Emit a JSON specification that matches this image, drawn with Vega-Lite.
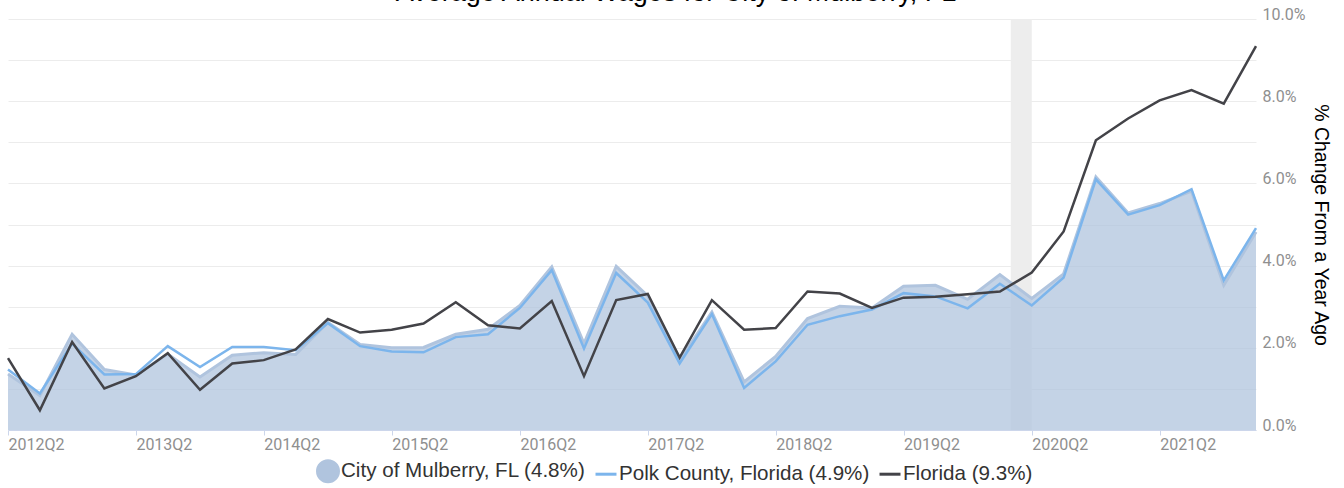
{
  "$schema": "https://vega.github.io/schema/vega-lite/v6.json",
  "width": 1248,
  "height": 411,
  "autosize": {"type": "none"},
  "padding": {"left": 8, "top": 19, "right": 88, "bottom": 58},
  "background": "white",
  "title": {
    "text": "Average Annual Wages for City of Mulberry, FL",
    "frame": "group",
    "anchor": "middle",
    "baseline": "alphabetic",
    "offset": -22,
    "dx": 44,
    "font": "Liberation Sans",
    "fontSize": 27,
    "fontWeight": "normal",
    "color": "#000000"
  },
  "datasets": {
    "recession": [{"start": "2020-02-01T00:00", "end": "2020-04-01T00:00"}],
    "wages": [
      {"date": "2012-04-01T00:00", "series": "Mulberry", "value": 1.36},
      {"date": "2012-07-01T00:00", "series": "Mulberry", "value": 0.84},
      {"date": "2012-10-01T00:00", "series": "Mulberry", "value": 2.33},
      {"date": "2013-01-01T00:00", "series": "Mulberry", "value": 1.47},
      {"date": "2013-04-01T00:00", "series": "Mulberry", "value": 1.34},
      {"date": "2013-07-01T00:00", "series": "Mulberry", "value": 1.85},
      {"date": "2013-10-01T00:00", "series": "Mulberry", "value": 1.29},
      {"date": "2014-01-01T00:00", "series": "Mulberry", "value": 1.82},
      {"date": "2014-04-01T00:00", "series": "Mulberry", "value": 1.88},
      {"date": "2014-07-01T00:00", "series": "Mulberry", "value": 1.84},
      {"date": "2014-10-01T00:00", "series": "Mulberry", "value": 2.62},
      {"date": "2015-01-01T00:00", "series": "Mulberry", "value": 2.08},
      {"date": "2015-04-01T00:00", "series": "Mulberry", "value": 2.0},
      {"date": "2015-07-01T00:00", "series": "Mulberry", "value": 2.01},
      {"date": "2015-10-01T00:00", "series": "Mulberry", "value": 2.33},
      {"date": "2016-01-01T00:00", "series": "Mulberry", "value": 2.45},
      {"date": "2016-04-01T00:00", "series": "Mulberry", "value": 3.03},
      {"date": "2016-07-01T00:00", "series": "Mulberry", "value": 3.97},
      {"date": "2016-10-01T00:00", "series": "Mulberry", "value": 2.1},
      {"date": "2017-01-01T00:00", "series": "Mulberry", "value": 3.98},
      {"date": "2017-04-01T00:00", "series": "Mulberry", "value": 3.26},
      {"date": "2017-07-01T00:00", "series": "Mulberry", "value": 1.7},
      {"date": "2017-10-01T00:00", "series": "Mulberry", "value": 2.87},
      {"date": "2018-01-01T00:00", "series": "Mulberry", "value": 1.17},
      {"date": "2018-04-01T00:00", "series": "Mulberry", "value": 1.79},
      {"date": "2018-07-01T00:00", "series": "Mulberry", "value": 2.71},
      {"date": "2018-10-01T00:00", "series": "Mulberry", "value": 3.01},
      {"date": "2019-01-01T00:00", "series": "Mulberry", "value": 2.97},
      {"date": "2019-04-01T00:00", "series": "Mulberry", "value": 3.5},
      {"date": "2019-07-01T00:00", "series": "Mulberry", "value": 3.52},
      {"date": "2019-10-01T00:00", "series": "Mulberry", "value": 3.18},
      {"date": "2020-01-01T00:00", "series": "Mulberry", "value": 3.78},
      {"date": "2020-04-01T00:00", "series": "Mulberry", "value": 3.2},
      {"date": "2020-07-01T00:00", "series": "Mulberry", "value": 3.8},
      {"date": "2020-10-01T00:00", "series": "Mulberry", "value": 6.16},
      {"date": "2021-01-01T00:00", "series": "Mulberry", "value": 5.28},
      {"date": "2021-04-01T00:00", "series": "Mulberry", "value": 5.51},
      {"date": "2021-07-01T00:00", "series": "Mulberry", "value": 5.81},
      {"date": "2021-10-01T00:00", "series": "Mulberry", "value": 3.52},
      {"date": "2022-01-01T00:00", "series": "Mulberry", "value": 4.82},
      {"date": "2012-04-01T00:00", "series": "Polk", "value": 1.47},
      {"date": "2012-07-01T00:00", "series": "Polk", "value": 0.89},
      {"date": "2012-10-01T00:00", "series": "Polk", "value": 2.1},
      {"date": "2013-01-01T00:00", "series": "Polk", "value": 1.35},
      {"date": "2013-04-01T00:00", "series": "Polk", "value": 1.36},
      {"date": "2013-07-01T00:00", "series": "Polk", "value": 2.04},
      {"date": "2013-10-01T00:00", "series": "Polk", "value": 1.53},
      {"date": "2014-01-01T00:00", "series": "Polk", "value": 2.02},
      {"date": "2014-04-01T00:00", "series": "Polk", "value": 2.02},
      {"date": "2014-07-01T00:00", "series": "Polk", "value": 1.94},
      {"date": "2014-10-01T00:00", "series": "Polk", "value": 2.6},
      {"date": "2015-01-01T00:00", "series": "Polk", "value": 2.04},
      {"date": "2015-04-01T00:00", "series": "Polk", "value": 1.91},
      {"date": "2015-07-01T00:00", "series": "Polk", "value": 1.89},
      {"date": "2015-10-01T00:00", "series": "Polk", "value": 2.26},
      {"date": "2016-01-01T00:00", "series": "Polk", "value": 2.33},
      {"date": "2016-04-01T00:00", "series": "Polk", "value": 2.97},
      {"date": "2016-07-01T00:00", "series": "Polk", "value": 3.89},
      {"date": "2016-10-01T00:00", "series": "Polk", "value": 1.98},
      {"date": "2017-01-01T00:00", "series": "Polk", "value": 3.82},
      {"date": "2017-04-01T00:00", "series": "Polk", "value": 3.1},
      {"date": "2017-07-01T00:00", "series": "Polk", "value": 1.62},
      {"date": "2017-10-01T00:00", "series": "Polk", "value": 2.82},
      {"date": "2018-01-01T00:00", "series": "Polk", "value": 1.02},
      {"date": "2018-04-01T00:00", "series": "Polk", "value": 1.67},
      {"date": "2018-07-01T00:00", "series": "Polk", "value": 2.56},
      {"date": "2018-10-01T00:00", "series": "Polk", "value": 2.77},
      {"date": "2019-01-01T00:00", "series": "Polk", "value": 2.93},
      {"date": "2019-04-01T00:00", "series": "Polk", "value": 3.33},
      {"date": "2019-07-01T00:00", "series": "Polk", "value": 3.25},
      {"date": "2019-10-01T00:00", "series": "Polk", "value": 2.96},
      {"date": "2020-01-01T00:00", "series": "Polk", "value": 3.56},
      {"date": "2020-04-01T00:00", "series": "Polk", "value": 3.03},
      {"date": "2020-07-01T00:00", "series": "Polk", "value": 3.71},
      {"date": "2020-10-01T00:00", "series": "Polk", "value": 6.1},
      {"date": "2021-01-01T00:00", "series": "Polk", "value": 5.24},
      {"date": "2021-04-01T00:00", "series": "Polk", "value": 5.47},
      {"date": "2021-07-01T00:00", "series": "Polk", "value": 5.86},
      {"date": "2021-10-01T00:00", "series": "Polk", "value": 3.64},
      {"date": "2022-01-01T00:00", "series": "Polk", "value": 4.91},
      {"date": "2012-04-01T00:00", "series": "Florida", "value": 1.75},
      {"date": "2012-07-01T00:00", "series": "Florida", "value": 0.48},
      {"date": "2012-10-01T00:00", "series": "Florida", "value": 2.14},
      {"date": "2013-01-01T00:00", "series": "Florida", "value": 1.01},
      {"date": "2013-04-01T00:00", "series": "Florida", "value": 1.31},
      {"date": "2013-07-01T00:00", "series": "Florida", "value": 1.87},
      {"date": "2013-10-01T00:00", "series": "Florida", "value": 0.98},
      {"date": "2014-01-01T00:00", "series": "Florida", "value": 1.62},
      {"date": "2014-04-01T00:00", "series": "Florida", "value": 1.7},
      {"date": "2014-07-01T00:00", "series": "Florida", "value": 1.96},
      {"date": "2014-10-01T00:00", "series": "Florida", "value": 2.7},
      {"date": "2015-01-01T00:00", "series": "Florida", "value": 2.37},
      {"date": "2015-04-01T00:00", "series": "Florida", "value": 2.44},
      {"date": "2015-07-01T00:00", "series": "Florida", "value": 2.59},
      {"date": "2015-10-01T00:00", "series": "Florida", "value": 3.11},
      {"date": "2016-01-01T00:00", "series": "Florida", "value": 2.55},
      {"date": "2016-04-01T00:00", "series": "Florida", "value": 2.47},
      {"date": "2016-07-01T00:00", "series": "Florida", "value": 3.14},
      {"date": "2016-10-01T00:00", "series": "Florida", "value": 1.31},
      {"date": "2017-01-01T00:00", "series": "Florida", "value": 3.16},
      {"date": "2017-04-01T00:00", "series": "Florida", "value": 3.31},
      {"date": "2017-07-01T00:00", "series": "Florida", "value": 1.76},
      {"date": "2017-10-01T00:00", "series": "Florida", "value": 3.16},
      {"date": "2018-01-01T00:00", "series": "Florida", "value": 2.44},
      {"date": "2018-04-01T00:00", "series": "Florida", "value": 2.48},
      {"date": "2018-07-01T00:00", "series": "Florida", "value": 3.37},
      {"date": "2018-10-01T00:00", "series": "Florida", "value": 3.32},
      {"date": "2019-01-01T00:00", "series": "Florida", "value": 2.97},
      {"date": "2019-04-01T00:00", "series": "Florida", "value": 3.22},
      {"date": "2019-07-01T00:00", "series": "Florida", "value": 3.24},
      {"date": "2019-10-01T00:00", "series": "Florida", "value": 3.3},
      {"date": "2020-01-01T00:00", "series": "Florida", "value": 3.37},
      {"date": "2020-04-01T00:00", "series": "Florida", "value": 3.83},
      {"date": "2020-07-01T00:00", "series": "Florida", "value": 4.83},
      {"date": "2020-10-01T00:00", "series": "Florida", "value": 7.05},
      {"date": "2021-01-01T00:00", "series": "Florida", "value": 7.58},
      {"date": "2021-04-01T00:00", "series": "Florida", "value": 8.02},
      {"date": "2021-07-01T00:00", "series": "Florida", "value": 8.27},
      {"date": "2021-10-01T00:00", "series": "Florida", "value": 7.94},
      {"date": "2022-01-01T00:00", "series": "Florida", "value": 9.34}
    ]
  },
  "layer": [
    {
      "data": {"name": "recession"},
      "mark": {"type": "rect", "color": "#ededed"},
      "encoding": {
        "x": {"field": "start", "type": "temporal", "title": null},
        "x2": {"field": "end"}
      }
    },
    {
      "data": {"name": "wages"},
      "transform": [{"filter": "datum.series === 'Mulberry'"}],
      "mark": {"type": "area", "color": "#b0c4de", "fillOpacity": 0.75},
      "encoding": {
        "x": {
          "field": "date",
          "type": "temporal",
          "title": null,
          "scale": {"domain": [{"year": 2012, "month": 4, "date": 1}, {"year": 2022, "month": 1, "date": 1}], "nice": false},
          "axis": {
            "orient": "bottom",
            "values": [
              {"year": 2012, "month": 4, "date": 1},
              {"year": 2013, "month": 4, "date": 1},
              {"year": 2014, "month": 4, "date": 1},
              {"year": 2015, "month": 4, "date": 1},
              {"year": 2016, "month": 4, "date": 1},
              {"year": 2017, "month": 4, "date": 1},
              {"year": 2018, "month": 4, "date": 1},
              {"year": 2019, "month": 4, "date": 1},
              {"year": 2020, "month": 4, "date": 1},
              {"year": 2021, "month": 4, "date": 1}
            ],
            "format": "%YQ%q",
            "grid": false,
            "domainColor": "#ccd6eb",
            "tickColor": "#ccd6eb",
            "tickSize": 5,
            "labelAlign": "left",
            "labelBaseline": "top",
            "labelPadding": 1,
            "labelFont": "Roboto",
            "labelFontSize": 16,
            "labelColor": "#8f8f8f",
            "labelFlush": false,
            "labelOverlap": false
          }
        },
        "y": {
          "field": "value",
          "type": "quantitative",
          "scale": {"domain": [0, 10], "nice": false},
          "axis": {
            "orient": "right",
            "values": [0, 1, 2, 3, 4, 5, 6, 7, 8, 9, 10],
            "grid": true,
            "gridColor": "#ececec",
            "domain": false,
            "ticks": false,
            "labelExpr": "datum.value % 2 === 0 ? format(datum.value, '.1f') + '%' : ''",
            "labelFont": "Roboto",
            "labelFontSize": 16,
            "labelColor": "#8f8f8f",
            "labelBaseline": "alphabetic",
            "labelAlign": "left",
            "labelPadding": 6,
            "labelOverlap": false,
            "labelFlush": false,
            "title": "% Change From a Year Ago",
            "titleFont": "Liberation Sans",
            "titleFontSize": 19.5,
            "titleFontWeight": "normal",
            "titleColor": "#000000",
            "titlePadding": 6
          }
        }
      }
    },
    {
      "data": {"name": "wages"},
      "transform": [{"filter": "datum.series === 'Mulberry'"}],
      "mark": {"type": "line", "strokeWidth": 3},
      "encoding": {
        "x": {"field": "date", "type": "temporal"},
        "y": {"field": "value", "type": "quantitative"},
        "color": {
          "field": "series",
          "type": "nominal",
          "scale": {"domain": ["Mulberry", "Polk", "Florida"], "range": ["#b0c4de", "#7cb5ec", "#434348"]},
          "legend": {
            "orient": "none",
            "legendX": 308,
            "legendY": 440,
            "direction": "horizontal",
            "title": null,
            "padding": 0,
            "labelFont": "Liberation Sans",
            "labelFontSize": 20.6,
            "labelColor": "#333333",
            "labelLimit": 400,
            "labelOffset": 1,
            "columnPadding": 3,
            "symbolSize": 440,
            "symbolStrokeWidth": 3,
            "labelExpr": "datum.value === 'Mulberry' ? 'City of Mulberry, FL (4.8%)' : datum.value === 'Polk' ? 'Polk County, Florida (4.9%)' : 'Florida (9.3%)'",
            "encode": {
              "symbols": {
                "update": {
                  "shape": [{"test": "datum.value === 'Mulberry'", "value": "circle"}, {"value": "stroke"}],
                  "fill": [{"test": "datum.value === 'Mulberry'", "value": "#b0c4de"}, {"value": "transparent"}]
                }
              }
            }
          }
        }
      }
    },
    {
      "data": {"name": "wages"},
      "transform": [{"filter": "datum.series === 'Polk'"}],
      "mark": {"type": "line", "strokeWidth": 2.5},
      "encoding": {
        "x": {"field": "date", "type": "temporal"},
        "y": {"field": "value", "type": "quantitative"},
        "color": {"field": "series", "type": "nominal"}
      }
    },
    {
      "data": {"name": "wages"},
      "transform": [{"filter": "datum.series === 'Florida'"}],
      "mark": {"type": "line", "strokeWidth": 2.5},
      "encoding": {
        "x": {"field": "date", "type": "temporal"},
        "y": {"field": "value", "type": "quantitative"},
        "color": {"field": "series", "type": "nominal"}
      }
    }
  ],
  "config": {
    "view": {"stroke": null},
    "axis": {"titleFontWeight": "normal"}
  }
}
